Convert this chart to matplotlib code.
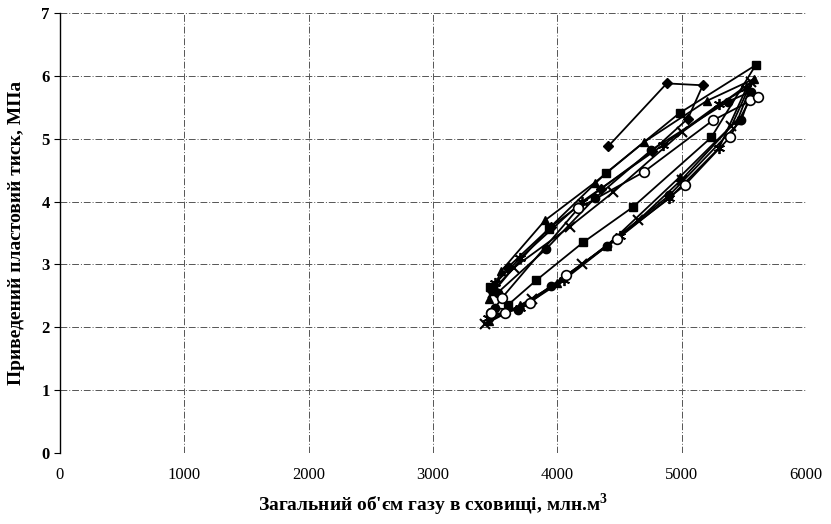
import matplotlib
matplotlib.use("Agg")
import matplotlib.pyplot as plt

plt.rcParams['font.family'] = ['Liberation Serif', 'DejaVu Serif']
plt.rcParams['mathtext.fontset'] = 'custom'
plt.rcParams['mathtext.rm'] = 'Liberation Serif'
plt.rcParams['mathtext.bf'] = 'Liberation Serif:bold'

# ---- data ----
diamond_x = [4410, 4880, 5170, 5050, 4760, 4350, 3950, 3600, 3470]
diamond_y = [4.88, 5.88, 5.85, 5.32, 4.80, 4.20, 3.60, 2.95, 2.60]

square_x = [3457, 3600, 3832, 4207, 4606, 5238, 5595, 4984, 4389, 3931, 3480]
square_y = [2.64, 2.35, 2.75, 3.35, 3.91, 5.02, 6.17, 5.41, 4.45, 3.57, 2.58]

triangle_x = [3450, 3700, 4000, 4400, 4984, 5450, 5580, 5200, 4700, 4300, 3900, 3550, 3450]
triangle_y = [2.10, 2.35, 2.70, 3.30, 4.39, 5.30, 5.95, 5.60, 4.95, 4.30, 3.70, 2.90, 2.45]

cross_x = [3420, 3800, 4200, 4650, 5000, 5400, 5560, 5000, 4450, 4100, 3650, 3480]
cross_y = [2.05, 2.45, 3.00, 3.70, 4.35, 5.20, 5.90, 5.10, 4.15, 3.60, 2.95, 2.55]

star_x = [3440, 3700, 4050, 4500, 4900, 5300, 5520, 5300, 4850, 4200, 3700, 3500]
star_y = [2.15, 2.30, 2.75, 3.45, 4.05, 4.85, 5.80, 5.55, 4.90, 4.00, 3.10, 2.70]

fcircle_x = [3500, 3680, 3950, 4400, 4900, 5479, 5560, 5370, 4756, 4300, 3912, 3520]
fcircle_y = [2.30, 2.28, 2.65, 3.30, 4.10, 5.29, 5.75, 5.59, 4.82, 4.05, 3.25, 2.55]

ocircle_x = [3470, 3577, 3778, 4073, 4480, 5024, 5386, 5547, 5611, 5249, 4695, 4167, 3551, 3470]
ocircle_y = [2.22, 2.22, 2.39, 2.83, 3.40, 4.26, 5.02, 5.61, 5.66, 5.29, 4.47, 3.89, 2.46, 2.22]

x_ticks = [0, 1000, 2000, 3000, 4000, 5000, 6000]
y_ticks = [0, 1, 2, 3, 4, 5, 6, 7]

fig = plt.figure(figsize=(8.31, 5.24), dpi=100)
ax = fig.add_axes([60/831, 1-453/524, (806-60)/831, (453-13)/524])

kw = dict(color='black', lw=1.3)
ax.plot(diamond_x, diamond_y, marker='D', ms=5, mfc='black', mec='black', **kw)
ax.plot(square_x, square_y, marker='s', ms=6, mfc='black', mec='black', **kw)
ax.plot(triangle_x, triangle_y, marker='^', ms=6, mfc='black', mec='black', **kw)
ax.plot(cross_x, cross_y, marker='x', ms=7, mew=1.5, **kw)
ax.plot(star_x, star_y, marker=(6, 2, 0), ms=8, mew=1.3, **kw)
ax.plot(fcircle_x, fcircle_y, marker='o', ms=6, mfc='black', mec='black', **kw)
ax.plot(ocircle_x, ocircle_y, marker='o', ms=7, mfc='white', mec='black', mew=1.2, **kw)

ax.set_xlim(0, 6000)
ax.set_ylim(0, 7)
ax.set_xticks(x_ticks)
ax.set_yticks(y_ticks)
ax.grid(True, color='#555555', lw=0.7, linestyle=(0, (7, 2, 1, 2)))
for s in ['top', 'right', 'bottom']:
    ax.spines[s].set_visible(False)
ax.spines['left'].set_linewidth(1.0)
ax.tick_params(axis='both', direction='out', length=4, labelsize=12)
ax.tick_params(axis='x', length=0, pad=10)
for lab in ax.get_yticklabels():
    lab.set_fontweight('bold')

ax.set_xlabel("Загальний об'єм газу в сховищі, млн.м$^{\\mathbf{3}}$", fontsize=14,
              fontweight='bold', labelpad=6)
ax.set_ylabel("Приведений пластовий тиск, МПа", fontsize=14,
              fontweight='bold', labelpad=12)

fig.savefig('out.png', dpi=100)
